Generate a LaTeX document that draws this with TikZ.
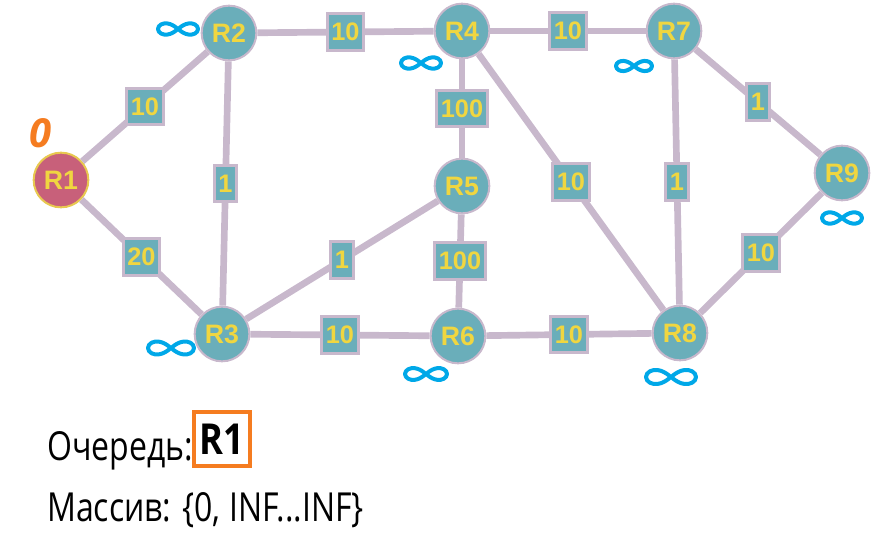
\documentclass[tikz,border=0pt]{standalone}
\usepackage{fontspec}
\setmainfont{Open Sans}
\newfontfamily\labfont{Liberation Sans}
\definecolor{edgecol}{RGB}{200,184,204}
\definecolor{teal}{RGB}{106,174,186}
\definecolor{ylw}{RGB}{240,214,64}
\definecolor{rone}{RGB}{200,96,122}
\definecolor{roneb}{RGB}{232,200,80}
\definecolor{infblue}{RGB}{0,168,232}
\definecolor{orng}{RGB}{245,124,32}
\tikzset{
  router/.style={circle, fill=teal, draw=edgecol, line width=1.5pt, minimum size=41pt, inner sep=0pt,
    font=\labfont\bfseries\fontsize{20}{20}\selectfont, text=ylw},
  startrouter/.style={router, fill=rone, draw=roneb},
  wt/.style={rectangle, fill=teal, draw=edgecol, line width=2.3pt, minimum height=27.5pt, inner xsep=3pt, inner ysep=0pt,
    font=\labfont\bfseries\fontsize{19}{19}\selectfont, text=ylw},
  link/.style={draw=edgecol, line width=5pt},
  infmark/.style={draw=infblue, line width=3pt, line cap=round, line join=round},
  txt/.style={anchor=base west, inner sep=0pt, font=\fontsize{30}{30}\selectfont},
}
\newcommand{\infsign}[3]{% center x, center y, half width
  \draw[infmark] plot[smooth cycle, domain=0:350, samples=36, variable=\t]
    ({#1+#3*cos(\t)/(1+sin(\t)^2)}, {#2+0.8*#3*sin(\t)*cos(\t)/(1+sin(\t)^2)});}
\begin{document}
\begin{tikzpicture}[x=0.75pt,y=-0.75pt]
\useasboundingbox (0,0) rectangle (894,553);
% routers
\node[startrouter] (R1) at (61,180) {R1};
\node[router] (R2) at (229,33) {R2};
\node[router] (R4) at (462,31) {R4};
\node[router] (R7) at (674,31) {R7};
\node[router] (R5) at (462,186) {R5};
\node[router] (R9) at (842,173) {R9};
\node[router] (R3) at (222,334) {R3};
\node[router] (R6) at (458,336) {R6};
\node[router] (R8) at (680,333) {R8};
% links
\draw[link] (R1) -- node[wt] (w12) {10} (R2);
\draw[link] (R1) -- node[wt] (w13) {20} (R3);
\draw[link] (R2) -- node[wt] (w23) {1} (R3);
\draw[link] (R2) -- node[wt] (w24) {10} (R4);
\draw[link] (R4) -- node[wt] (w47) {10} (R7);
\draw[link] (R4) -- node[wt] (w45) {100} (R5);
\draw[link] (R4) -- node[wt] (w48) {10} (R8);
\draw[link] (R7) -- node[wt] (w78) {1} (R8);
\draw[link] (R7) -- node[wt] (w79) {1} (R9);
\draw[link] (R9) -- node[wt] (w98) {10} (R8);
\draw[link] (R3) -- node[wt] (w35) {1} (R5);
\draw[link] (R5) -- node[wt] (w56) {100} (R6);
\draw[link] (R3) -- node[wt] (w36) {10} (R6);
\draw[link] (R6) -- node[wt] (w68) {10} (R8);
% distances
\node[text=orng, font=\bfseries\itshape\fontsize{30}{30}\selectfont, inner sep=0pt] (d1) at (41,133) {0};
\infsign{178}{29}{20}
\infsign{421}{63}{20}
\infsign{634}{66}{18}
\infsign{842}{218}{20}
\infsign{171}{348}{23}
\infsign{426}{374}{21}
\infsign{671}{377}{25}
% bottom text
\node[txt] (q) at (47,460) {\scalebox{0.8}[1]{Очередь:}};
\node[draw=orng, line width=3pt, minimum width=42pt, minimum height=40pt, inner sep=0pt,
  font=\bfseries\fontsize{32}{32}\selectfont] (qr) at (222,439) {\scalebox{0.85}[1]{R1}};
\node[txt] (m) at (47,521) {\scalebox{0.8}[1]{Массив: \{0, INF...INF\}}};
\end{tikzpicture}
\end{document}
